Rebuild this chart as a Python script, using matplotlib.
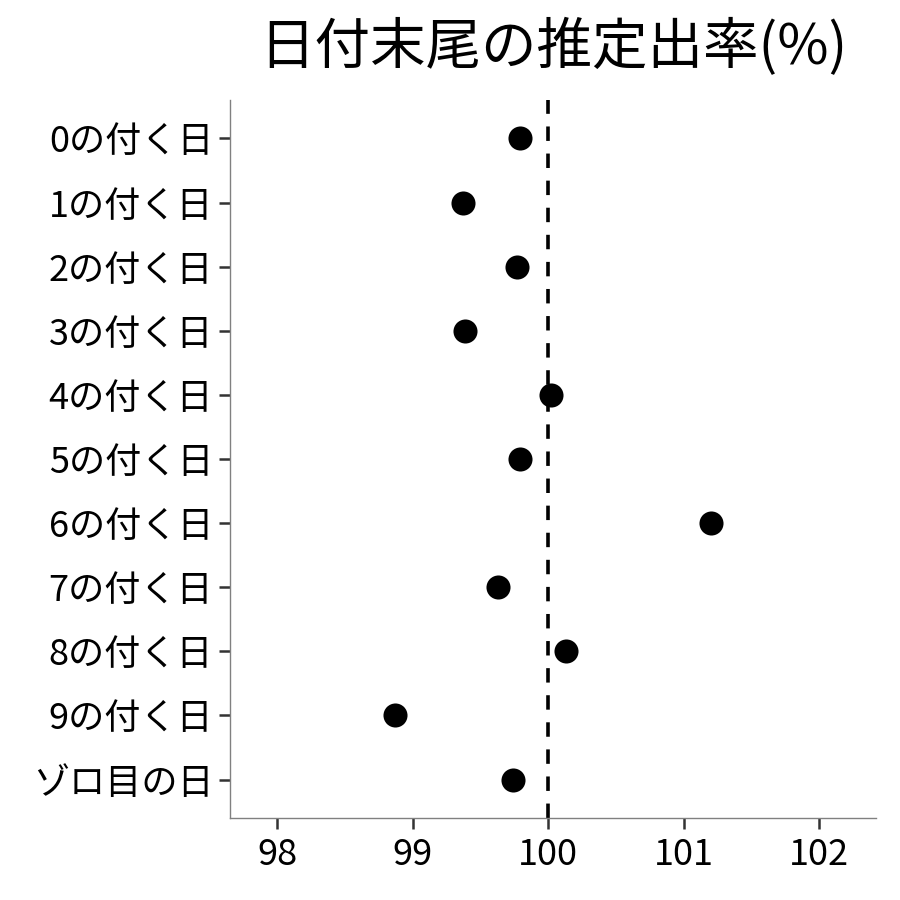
import matplotlib
matplotlib.use("Agg")
import matplotlib.pyplot as plt

plt.rcParams['font.family'] = ['Noto Sans CJK JP', 'DejaVu Sans']

categories = ["0の付く日", "1の付く日", "2の付く日", "3の付く日", "4の付く日",
              "5の付く日", "6の付く日", "7の付く日", "8の付く日", "9の付く日", "ゾロ目の日"]
values = [99.79, 99.37, 99.77, 99.39, 100.02, 99.79, 101.20, 99.63, 100.13, 98.87, 99.74]
xticks = [98, 99, 100, 101, 102]
title = "日付末尾の推定出率(%)"

fig = plt.figure(figsize=(9, 9), dpi=100)
ax = fig.add_axes([230/900, 1-818/900, (876-230)/900, (818-100)/900])

n = len(categories)
ypos = list(range(n, 0, -1))
ax.axvline(100, color='black', linewidth=2.6, linestyle=(0, (4, 3.5)), zorder=1)
ax.scatter(values, ypos, s=300, color='black', zorder=3, linewidths=0)

ax.set_yticks(ypos)
ax.set_yticklabels(categories)
ax.set_ylim(0.4, n + 0.6)
ax.set_xticks(xticks)
ax.set_xticklabels([str(t) for t in xticks])
ax.set_xlim(97.653, 102.42)

for s in ['top', 'right']:
    ax.spines[s].set_visible(False)
for s in ['left', 'bottom']:
    ax.spines[s].set_color('#808080')
    ax.spines[s].set_linewidth(1.0)
ax.tick_params(axis='both', length=8, width=1.8, color='#333333',
               labelsize=26, labelcolor='black', pad=4)
ax.tick_params(axis='x', pad=6)

ax.set_title(title, fontsize=40, color='black', pad=26)

fig.savefig("out.png", dpi=100, facecolor='white')
